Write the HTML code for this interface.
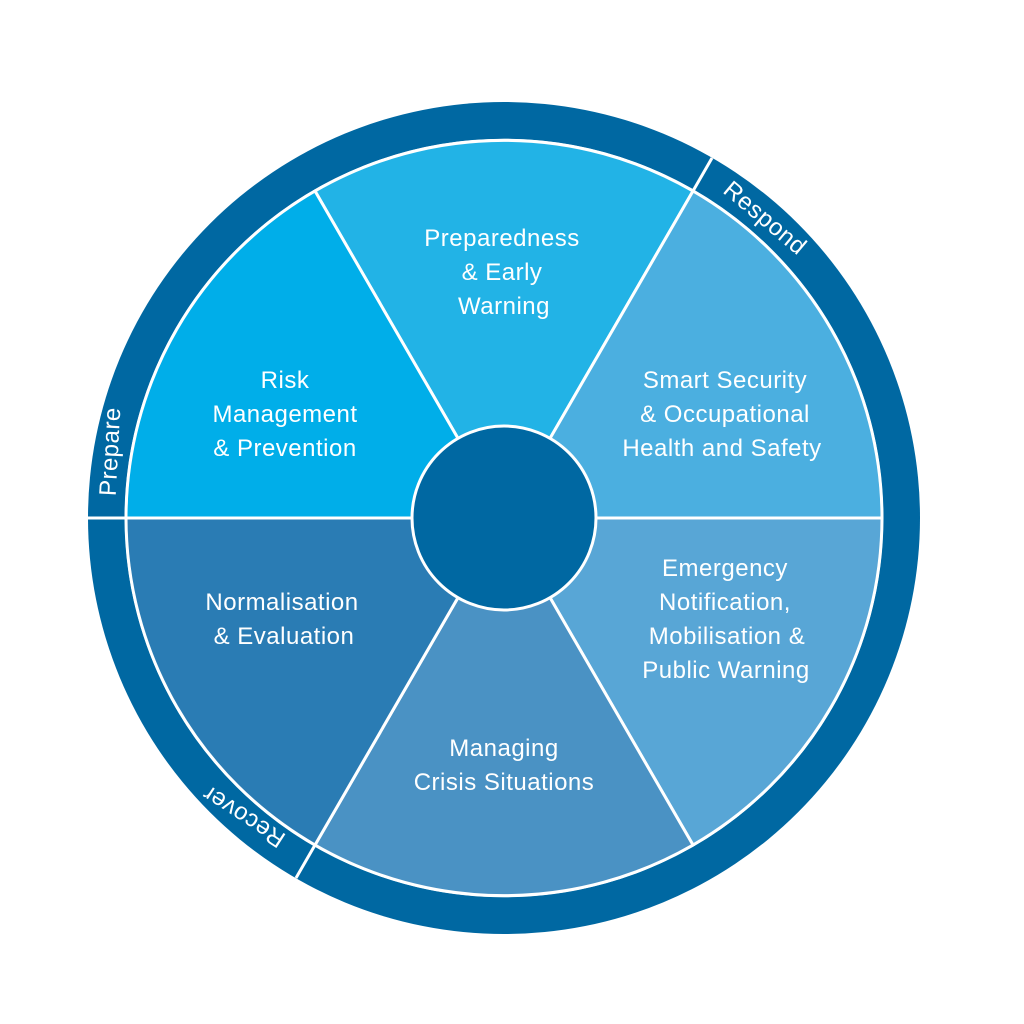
<!DOCTYPE html>
<html><head><meta charset="utf-8"><style>
html,body{margin:0;padding:0;background:#fff;}
svg{display:block;}
text{font-family:"Liberation Sans",sans-serif;fill:#fff;font-size:24px;text-anchor:middle;letter-spacing:0.5px;}
</style></head><body>
<svg width="1024" height="1024" viewBox="0 0 1024 1024">
<circle cx="504" cy="518" r="416" fill="#0068a2"/>
<g stroke="#fff" stroke-width="3">
<path d="M504 518 L315 191 A378 378 0 0 1 693 191 Z" fill="#22b3e6"/>
<path d="M504 518 L126 518 A378 378 0 0 1 315 191 Z" fill="#00aee9"/>
<path d="M504 518 L693 191 A378 378 0 0 1 882 518 Z" fill="#4bafe0"/>
<path d="M504 518 L882 518 A378 378 0 0 1 693 845 Z" fill="#58a6d6"/>
<path d="M504 518 L693 845 A378 378 0 0 1 315 845 Z" fill="#4a92c4"/>
<path d="M504 518 L315 845 A378 378 0 0 1 126 518 Z" fill="#2a7cb4"/>
</g>
<circle cx="504" cy="518" r="378" fill="none" stroke="#fff" stroke-width="2.5"/>
<circle cx="504" cy="518" r="92" fill="#0068a2" stroke="#fff" stroke-width="3"/>
<g stroke="#fff" stroke-width="3">
<line x1="88" y1="518" x2="126" y2="518"/>
<line x1="693" y1="191" x2="712" y2="158"/>
<line x1="315" y1="845" x2="296" y2="878"/>
</g>
<text transform="translate(118,452) rotate(-87)">Prepare</text>
<text transform="translate(760,224) rotate(40)">Respond</text>
<text transform="translate(248,810) rotate(-147)">Recover</text>
<text x="502" y="246">Preparedness</text>
<text x="502" y="280">&amp; Early</text>
<text x="504" y="314">Warning</text>
<text x="285" y="388">Risk</text>
<text x="285" y="422">Management</text>
<text x="285" y="456">&amp; Prevention</text>
<text x="725" y="388">Smart Security</text>
<text x="725" y="422">&amp; Occupational</text>
<text x="722" y="456">Health and Safety</text>
<text x="282" y="610">Normalisation</text>
<text x="284" y="644">&amp; Evaluation</text>
<text x="725" y="576">Emergency</text>
<text x="725" y="610">Notification,</text>
<text x="727" y="644">Mobilisation &amp;</text>
<text x="726" y="678">Public Warning</text>
<text x="504" y="756">Managing</text>
<text x="504" y="790">Crisis Situations</text>
</svg>
</body></html>
